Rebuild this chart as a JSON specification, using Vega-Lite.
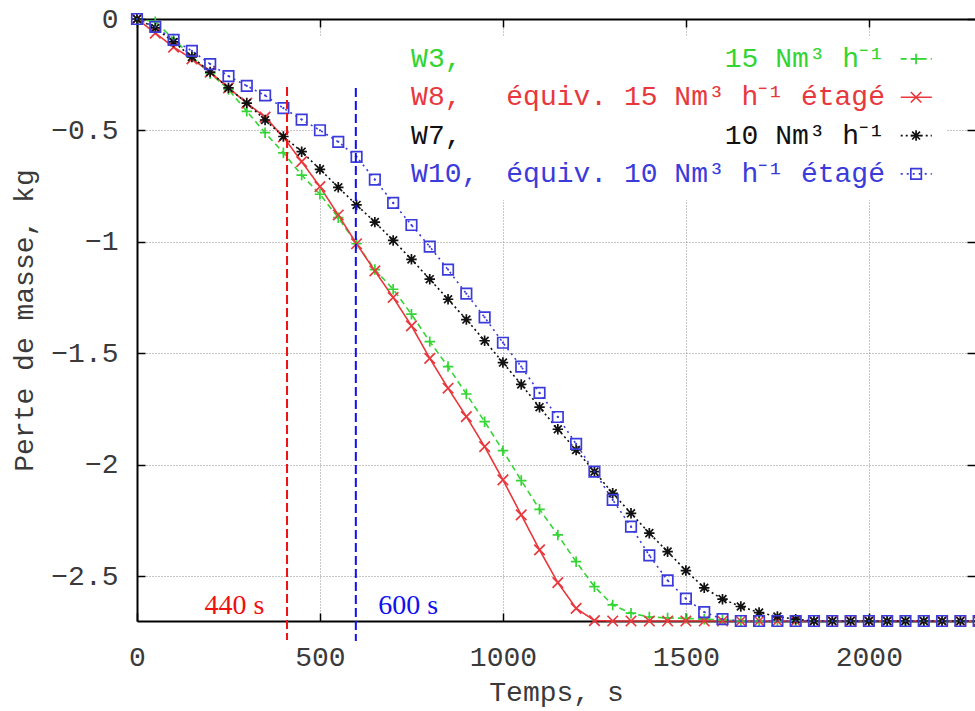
{
"$schema":"https://vega.github.io/schema/vega-lite/v6.json",
"width":838,"height":602,
"autosize":{"type":"none"},
"padding":{"left":137,"top":19,"right":0,"bottom":90},
"background":"#ffffff",
"config":{"view":{"stroke":null},"font":"Liberation Mono",
 "axis":{"labelFont":"Liberation Mono","labelFontSize":28,"labelColor":"#3a3a3a","labelFlush":false,"labelOverlap":false,
  "titleFont":"Liberation Mono","titleFontSize":28,"titleFontWeight":"normal","titleColor":"#3a3a3a",
  "domainColor":"#000000","domainWidth":2,"tickColor":"#000000","tickWidth":1.5,"tickSize":-8,
  "gridColor":"#8c8c8c","gridDash":[1,2],"gridWidth":1}},
"datasets":{
 "curves":[
  {"t":0,"W3":0,"W8":0,"W7":0,"W10":0},
  {"t":50,"W3":-0.012,"W8":-0.063,"W7":-0.04,"W10":-0.035},
  {"t":100,"W3":-0.09,"W8":-0.126,"W7":-0.103,"W10":-0.094},
  {"t":150,"W3":-0.169,"W8":-0.179,"W7":-0.17,"W10":-0.143},
  {"t":200,"W3":-0.244,"W8":-0.238,"W7":-0.238,"W10":-0.202},
  {"t":250,"W3":-0.316,"W8":-0.309,"W7":-0.309,"W10":-0.256},
  {"t":300,"W3":-0.414,"W8":-0.377,"W7":-0.377,"W10":-0.3},
  {"t":350,"W3":-0.51,"W8":-0.44,"W7":-0.453,"W10":-0.343},
  {"t":400,"W3":-0.6,"W8":-0.529,"W7":-0.527,"W10":-0.4},
  {"t":450,"W3":-0.7,"W8":-0.64,"W7":-0.595,"W10":-0.451},
  {"t":500,"W3":-0.786,"W8":-0.752,"W7":-0.674,"W10":-0.499},
  {"t":550,"W3":-0.891,"W8":-0.879,"W7":-0.755,"W10":-0.551},
  {"t":600,"W3":-1.008,"W8":-1.008,"W7":-0.834,"W10":-0.618},
  {"t":650,"W3":-1.124,"W8":-1.13,"W7":-0.911,"W10":-0.72},
  {"t":700,"W3":-1.212,"W8":-1.249,"W7":-0.993,"W10":-0.825},
  {"t":750,"W3":-1.324,"W8":-1.376,"W7":-1.078,"W10":-0.924},
  {"t":800,"W3":-1.447,"W8":-1.522,"W7":-1.167,"W10":-1.021},
  {"t":850,"W3":-1.559,"W8":-1.656,"W7":-1.257,"W10":-1.124},
  {"t":900,"W3":-1.682,"W8":-1.783,"W7":-1.348,"W10":-1.232},
  {"t":950,"W3":-1.806,"W8":-1.918,"W7":-1.443,"W10":-1.338},
  {"t":1000,"W3":-1.936,"W8":-2.067,"W7":-1.541,"W10":-1.452},
  {"t":1050,"W3":-2.07,"W8":-2.224,"W7":-1.639,"W10":-1.559},
  {"t":1100,"W3":-2.199,"W8":-2.381,"W7":-1.741,"W10":-1.677},
  {"t":1150,"W3":-2.314,"W8":-2.528,"W7":-1.84,"W10":-1.785},
  {"t":1200,"W3":-2.434,"W8":-2.643,"W7":-1.933,"W10":-1.906},
  {"t":1250,"W3":-2.546,"W8":-2.698,"W7":-2.03,"W10":-2.03},
  {"t":1300,"W3":-2.628,"W8":-2.7,"W7":-2.127,"W10":-2.157},
  {"t":1350,"W3":-2.665,"W8":-2.7,"W7":-2.217,"W10":-2.277},
  {"t":1400,"W3":-2.682,"W8":-2.7,"W7":-2.306,"W10":-2.406},
  {"t":1450,"W3":-2.686,"W8":-2.7,"W7":-2.389,"W10":-2.518},
  {"t":1500,"W3":-2.688,"W8":-2.7,"W7":-2.474,"W10":-2.6},
  {"t":1550,"W3":-2.692,"W8":-2.7,"W7":-2.551,"W10":-2.66},
  {"t":1600,"W3":-2.695,"W8":-2.7,"W7":-2.602,"W10":-2.692},
  {"t":1650,"W3":-2.7,"W8":-2.7,"W7":-2.635,"W10":-2.7},
  {"t":1700,"W3":-2.7,"W8":-2.7,"W7":-2.662,"W10":-2.7},
  {"t":1750,"W3":-2.7,"W8":-2.7,"W7":-2.68,"W10":-2.7},
  {"t":1800,"W3":-2.7,"W8":-2.7,"W7":-2.692,"W10":-2.7},
  {"t":1850,"W3":-2.7,"W8":-2.7,"W7":-2.7,"W10":-2.7},
  {"t":1900,"W3":-2.7,"W8":-2.7,"W7":-2.7,"W10":-2.7},
  {"t":1950,"W3":-2.7,"W8":-2.7,"W7":-2.7,"W10":-2.7},
  {"t":2000,"W3":-2.7,"W8":-2.7,"W7":-2.7,"W10":-2.7},
  {"t":2050,"W3":-2.7,"W8":-2.7,"W7":-2.7,"W10":-2.7},
  {"t":2100,"W3":-2.7,"W8":-2.7,"W7":-2.7,"W10":-2.7},
  {"t":2150,"W3":-2.7,"W8":-2.7,"W7":-2.7,"W10":-2.7},
  {"t":2200,"W3":-2.7,"W8":-2.7,"W7":-2.7,"W10":-2.7},
  {"t":2250,"W3":-2.7,"W8":-2.7,"W7":-2.7,"W10":-2.7},
  {"t":2300,"W3":-2.7,"W8":-2.7,"W7":-2.7,"W10":-2.7}
 ],
 "legend":[
  {"s":"W3","left":"W3,","right":"15 Nm³ h⁻¹"},
  {"s":"W8","left":"W8,","right":"équiv. 15 Nm³ h⁻¹ étagé"},
  {"s":"W7","left":"W7,","right":"10 Nm³ h⁻¹"},
  {"s":"W10","left":"W10,","right":"équiv. 10 Nm³ h⁻¹ étagé"}
 ]
},
"layer":[
 {"data":{"values":[{}]},
  "mark":{"type":"rect","fill":"#ffffff"},
  "encoding":{
   "x":{"datum":487,"type":"quantitative","scale":{"domain":[0,2290],"nice":false,"zero":false},"axis":null},
   "x2":{"datum":2211},
   "y":{"datum":-0.076,"type":"quantitative","scale":{"domain":[-2.7,0],"nice":false,"zero":false},"axis":null},
   "y2":{"datum":-0.812}}},
 {"data":{"name":"curves"},
  "transform":[{"fold":["W3","W8","W7","W10"],"as":["s","m"]}],
  "mark":{"type":"line","strokeWidth":1.6,"clip":false},
  "encoding":{
   "x":{"field":"t","type":"quantitative","scale":{"domain":[0,2290],"nice":false,"zero":false},
    "axis":{"orient":"bottom","values":[0,500,1000,1500,2000],"format":"d","title":"Temps, s","grid":true,"labelPadding":30,"titlePadding":7}},
   "y":{"field":"m","type":"quantitative","scale":{"domain":[-2.7,0],"nice":false,"zero":false},
    "axis":{"orient":"left","values":[0,-0.5,-1,-1.5,-2,-2.5],"format":"~g","title":"Perte de masse, kg","grid":true,"labelPadding":27,"titlePadding":12}},
   "color":{"field":"s","type":"nominal","scale":{"domain":["W3","W8","W7","W10"],"range":["#33d433","#e8383d","#111111","#3b3bdc"]},"legend":null},
   "strokeDash":{"field":"s","type":"nominal","scale":{"domain":["W3","W8","W7","W10"],"range":[[6,4],[1,0],[2,3],[2,4]]},"legend":null}}},
 {"data":{"name":"curves"},
  "transform":[{"fold":["W3","W8","W7","W10"],"as":["s","m"]}],
  "mark":{"type":"point","filled":false,"size":110,"strokeWidth":1.7,"opacity":1,"clip":false},
  "encoding":{
   "x":{"field":"t","type":"quantitative",
    "axis":{"orient":"top","values":[0,500,1000,1500,2000],"labels":false,"grid":false,"title":null}},
   "y":{"field":"m","type":"quantitative",
    "axis":{"orient":"right","values":[0,-0.5,-1,-1.5,-2,-2.5],"labels":false,"grid":false,"domain":false,"title":null}},
   "color":{"field":"s","type":"nominal","legend":null},
   "shape":{"field":"s","type":"nominal","scale":{"domain":["W3","W8","W7","W10"],"range":["M-1,0H1M0,-1V1","M-1,-1L1,1M-1,1L1,-1","M-1,0H1M0,-1V1M-0.75,-0.75L0.75,0.75M-0.75,0.75L0.75,-0.75","square"]},"legend":null}}},
 {"data":{"name":"curves"},
  "transform":[{"fold":["W10"],"as":["s","m"]}],
  "mark":{"type":"point","filled":true,"shape":"circle","size":5,"color":"#3b3bdc","opacity":1,"clip":false},
  "encoding":{
   "x":{"field":"t","type":"quantitative","axis":null},
   "y":{"field":"m","type":"quantitative","axis":null}}},
 {"data":{"values":[{}]},
  "mark":{"type":"rule","color":"#f01010","strokeWidth":2,"strokeDash":[9,4],"clip":false},
  "encoding":{
   "x":{"datum":410,"type":"quantitative","axis":null},
   "y":{"datum":-0.305,"type":"quantitative","axis":null},
   "y2":{"datum":-2.785}}},
 {"data":{"values":[{}]},
  "mark":{"type":"rule","color":"#1010f0","strokeWidth":2,"strokeDash":[9,4],"clip":false},
  "encoding":{
   "x":{"datum":598,"type":"quantitative","axis":null},
   "y":{"datum":-0.31,"type":"quantitative","axis":null},
   "y2":{"datum":-2.79}}},
 {"data":{"values":[{}]},
  "mark":{"type":"text","text":"440 s","font":"Liberation Serif","fontSize":28,"color":"#f01010","align":"center","baseline":"middle"},
  "encoding":{
   "x":{"datum":266,"type":"quantitative","axis":null},
   "y":{"datum":-2.632,"type":"quantitative","axis":null}}},
 {"data":{"values":[{}]},
  "mark":{"type":"text","text":"600 s","font":"Liberation Serif","fontSize":28,"color":"#1010f0","align":"center","baseline":"middle"},
  "encoding":{
   "x":{"datum":741,"type":"quantitative","axis":null},
   "y":{"datum":-2.632,"type":"quantitative","axis":null}}},
 {"data":{"name":"legend"},
  "encoding":{
   "y":{"datum":-0.179,"type":"quantitative","axis":null},
   "yOffset":{"field":"s","type":"nominal","scale":{"type":"point","domain":["W3","W8","W7","W10"],"range":[0,115],"padding":0}},
   "color":{"field":"s","type":"nominal","legend":null}},
  "layer":[
   {"mark":{"type":"text","align":"left","baseline":"middle","font":"Liberation Mono","fontSize":28},
    "encoding":{"x":{"datum":749,"type":"quantitative","axis":null},"text":{"field":"left"}}},
   {"mark":{"type":"text","align":"right","baseline":"middle","font":"Liberation Mono","fontSize":28},
    "encoding":{"x":{"datum":2044,"type":"quantitative","axis":null},"text":{"field":"right"}}},
   {"mark":{"type":"rule","strokeWidth":1.6},
    "encoding":{"x":{"datum":2087,"type":"quantitative","axis":null},"x2":{"datum":2172},
     "strokeDash":{"field":"s","type":"nominal","legend":null}}},
   {"mark":{"type":"point","filled":false,"size":110,"strokeWidth":1.7,"opacity":1},
    "encoding":{"x":{"datum":2129,"type":"quantitative","axis":null},
     "shape":{"field":"s","type":"nominal","legend":null}}}
  ]}
],
"resolve":{"axis":{"x":"independent","y":"independent"}}
}
